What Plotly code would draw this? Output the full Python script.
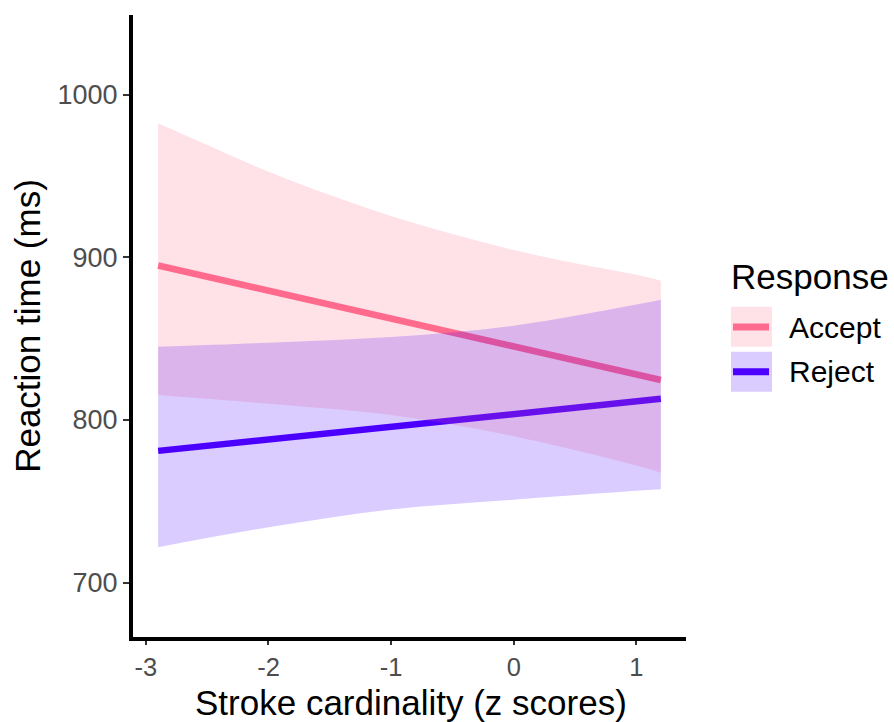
import plotly.graph_objects as go

# ---- data ----
stroke_z = [-2.9, -2.0, -1.0, 0.0, 1.0, 1.2]

accept_fit = [895.0, 879.5, 862.3, 845.2, 828.0, 824.6]
accept_upper_z = [-2.9, -2.5, -2.0, -1.5, -1.0, -0.5, 0.0, 0.5, 1.0, 1.2]
accept_upper = [982.5, 969.1, 952.7, 938.4, 925.5, 914.4, 904.5, 896.4, 889.3, 885.7]
accept_lower = [815.4, 810.0, 803.0, 790.0, 772.0, 767.6]

reject_fit = [781.0, 788.0, 795.8, 803.6, 811.4, 813.0]
reject_upper = [845.0, 847.5, 851.0, 858.0, 871.0, 874.0]
reject_lower = [721.7, 734.0, 745.0, 751.0, 756.5, 757.4]

groups = ["Accept", "Reject"]
x_ticks = [-3, -2, -1, 0, 1]
y_ticks = [700, 800, 900, 1000]

# ---- styles ----
ACCEPT = "#FF6B8E"
REJECT = "#4C00FF"
ACCEPT_FILL = "rgba(255,107,142,0.2)"
REJECT_FILL = "rgba(76,0,255,0.2)"
FONT = "Liberation Sans, Arial, sans-serif"

W, H = 894, 722
L, R, T, B = 133, 686, 15, 637  # plot area in pixels


def px(xp):
    return (xp - L) / (R - L)


def py(yp):
    return (B - yp) / (B - T)


fig = go.Figure()

# fit lines first (ribbons are drawn over them)
fig.add_trace(go.Scatter(x=stroke_z, y=accept_fit, mode="lines",
                         line=dict(color=ACCEPT, width=6.5), showlegend=False,
                         name="Accept"))
fig.add_trace(go.Scatter(x=stroke_z, y=reject_fit, mode="lines",
                         line=dict(color=REJECT, width=6.5), showlegend=False,
                         name="Reject"))

# ribbons
bands = [(stroke_z, accept_lower, accept_upper_z, accept_upper, ACCEPT_FILL, "Accept"),
         (stroke_z, reject_lower, stroke_z, reject_upper, REJECT_FILL, "Reject")]
for xl, lower, xu, upper, fillc, nm in bands:
    fig.add_trace(go.Scatter(x=xl, y=lower, mode="lines",
                             line=dict(width=0, shape="spline", color="rgba(0,0,0,0)"),
                             showlegend=False, hoverinfo="skip"))
    fig.add_trace(go.Scatter(x=xu, y=upper, mode="lines", fill="tonexty",
                             fillcolor=fillc,
                             line=dict(width=0, shape="spline", color="rgba(0,0,0,0)"),
                             showlegend=False, name=nm))

# ---- custom legend ----
shapes = []
annotations = []
swatches = [(ACCEPT, ACCEPT_FILL, 306.7, 346.7, 327.0, groups[0]),
            (REJECT, REJECT_FILL, 351.7, 391.7, 371.7, groups[1])]
for linec, fillc, y0, y1, yc, label in swatches:
    shapes.append(dict(type="rect", xref="paper", yref="paper",
                       x0=px(731), x1=px(772), y0=py(y1), y1=py(y0),
                       fillcolor=fillc, line=dict(width=0), layer="above"))
    shapes.append(dict(type="line", xref="paper", yref="paper",
                       x0=px(733), x1=px(769), y0=py(yc), y1=py(yc),
                       line=dict(color=linec, width=7), layer="above"))
    annotations.append(dict(text=label, xref="paper", yref="paper",
                            x=px(787), y=py(yc), xanchor="left", yanchor="middle",
                            showarrow=False,
                            font=dict(family=FONT, size=30, color="black")))
annotations.append(dict(text="Response", xref="paper", yref="paper",
                        x=px(729), y=py(276), xanchor="left", yanchor="middle",
                        showarrow=False,
                        font=dict(family=FONT, size=35, color="black")))
# x-axis title
annotations.append(dict(text="Stroke cardinality (z scores)", xref="paper", yref="paper",
                        x=px(410.5), y=py(702.5), xanchor="center", yanchor="middle",
                        showarrow=False,
                        font=dict(family=FONT, size=35, color="black")))

fig.update_layout(
    width=W, height=H,
    margin=dict(l=L, r=W - R, t=T, b=H - B, pad=0),
    paper_bgcolor="white", plot_bgcolor="white",
    showlegend=False,
    shapes=shapes, annotations=annotations,
    font=dict(family=FONT),
)
fig.update_xaxes(
    range=[-3.105, 1.405], tickvals=x_ticks, ticktext=[str(v) for v in x_ticks],
    showgrid=False, zeroline=False,
    showline=True, linecolor="black", linewidth=4,
    ticks="outside", ticklen=4, tickwidth=2, tickcolor="#333333",
    tickfont=dict(family=FONT, size=25.5, color="#4D4D4D"),
    automargin=False,
)
fig.update_yaxes(
    range=[666.5, 1049.1], tickvals=y_ticks, ticktext=[str(v) for v in y_ticks],
    showgrid=False, zeroline=False,
    showline=True, linecolor="black", linewidth=4,
    ticks="outside", ticklen=6, tickwidth=2, tickcolor="#333333",
    tickfont=dict(family=FONT, size=27, color="#4D4D4D"),
    title=dict(text="Reaction time (ms)",
               font=dict(family=FONT, size=35, color="black"), standoff=7),
    automargin=False,
)

fig.write_html("out.html")
